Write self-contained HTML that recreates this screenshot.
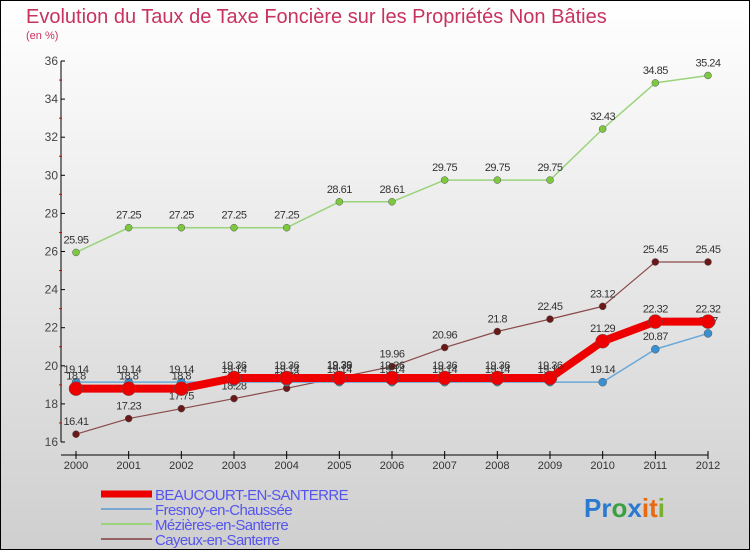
<!DOCTYPE html>
<html><head><meta charset="utf-8"><style>
body{margin:0;}
#wrap{width:748px;height:548px;border:1px solid #000;background:linear-gradient(#ffffff,#cfcfcf);position:relative;font-family:"Liberation Sans",sans-serif;overflow:hidden}
svg{position:absolute;left:0;top:0}
</style></head><body>
<div id="wrap">
<svg id="c" width="750" height="550">
<text x="25" y="22" font-size="20" fill="#c8325f">Evolution du Taux de Taxe Foncière sur les Propriétés Non Bâties</text>
<text x="25" y="38" font-size="11" fill="#c8325f">(en %)</text>
</svg>
</div>
<script>
const years=[2000,2001,2002,2003,2004,2005,2006,2007,2008,2009,2010,2011,2012];
const yTicks=[16,18,20,22,24,26,28,30,32,34,36];
const beaucourt=[18.8,18.8,18.8,19.36,19.36,19.36,19.36,19.36,19.36,19.36,21.29,22.32,22.32];
const fresnoy=[19.14,19.14,19.14,19.14,19.14,19.14,19.14,19.14,19.14,19.14,19.14,20.87,21.7];
const mezieres=[25.95,27.25,27.25,27.25,27.25,28.61,28.61,29.75,29.75,29.75,32.43,34.85,35.24];
const cayeux=[16.41,17.23,17.75,18.28,18.82,19.39,19.96,20.96,21.8,22.45,23.12,25.45,25.45];
const NS="http://www.w3.org/2000/svg",svg=document.getElementById('c');
const X=i=>75+i*(707-75)/(years.length-1);
const Y=v=>441-(v-16)*(441-60)/20;
function el(t,a,p){const e=document.createElementNS(NS,t);for(const k in a)e.setAttribute(k,a[k]);(p||svg).appendChild(e);return e;}
// axes
let ax=el('line',{x1:60,y1:60,x2:60,y2:441,stroke:'#000'});


let bx=el('line',{x1:60,y1:454,x2:707,y2:454,stroke:'#000'});


yTicks.forEach((t,i)=>{
  el('line',{x1:60,y1:Y(t),x2:64,y2:Y(t),stroke:'#000'});
  if(i<yTicks.length-1) el('line',{x1:58,y1:Y(t+1),x2:61,y2:Y(t+1),stroke:'#d00'});
  const tx=el('text',{x:57,y:Y(t)+4,'font-size':12,fill:'#444','text-anchor':'end'});
  tx.textContent=t;
  
  
});
years.forEach((yr,i)=>{
  el('line',{x1:X(i),y1:450,x2:X(i),y2:458,stroke:'#000'});
  const tx=el('text',{x:X(i),y:468,'font-size':11,fill:'#333','text-anchor':'middle'});
  tx.textContent=yr;
  
  
});
function series(data,color,w,r,name,pt){
  const g=el('g',{});
  
  
  el('polyline',{points:data.map((v,i)=>X(i)+','+Y(v)).join(' '),fill:'none',stroke:color,'stroke-width':w,'stroke-linejoin':'round'},g);
  data.forEach((v,i)=>{
    const c=el('circle',{cx:X(i),cy:Y(v),r:r,fill:pt,stroke:'#555','stroke-width':0.5},g);
    
    
    const t=el('text',{x:X(i),y:Y(v)-9,'font-size':11,fill:'#333','text-anchor':'middle','letter-spacing':'-0.5'},g);
    t.textContent=v;
    
    
  });
}
series(mezieres,'#9ad47a',1.5,3.5,'mezieres','#7ec840');
series(cayeux,'#8a4a4a',1.2,3.5,'cayeux','#6a1818');
series(fresnoy,'#6aa8d8',1.5,4,'fresnoy','#3a8fd0');
series(beaucourt,'#ee0000',8,7,'beaucourt','#ee0000');
// legend
const leg=[['BEAUCOURT-EN-SANTERRE','#ee0000',7],['Fresnoy-en-Chaussée','#7aa8d0',2],['Mézières-en-Santerre','#9ad47a',2],['Cayeux-en-Santerre','#946262',2]];
leg.forEach((l,i)=>{
  const yy=493+i*15;
  const ln=el('line',{x1:100,y1:yy,x2:151,y2:yy,stroke:l[1],'stroke-width':l[2]});
  
  
  const t=el('text',{x:154,y:yy+6,'font-size':15,fill:'#5555ee','letter-spacing':'-0.6'});
  t.textContent=l[0];
  
  
});
const logo=el('text',{x:583,y:516,'font-size':26,'font-weight':'bold'});


[['P','#2a7ad0'],['r','#2a7ad0'],['o','#3aa040'],['x','#2a7ad0'],['i','#e86a10'],['t','#e86a10'],['i','#7ab030']].forEach(p=>{el('tspan',{fill:p[1]},logo).textContent=p[0];});
</script>
</body></html>
